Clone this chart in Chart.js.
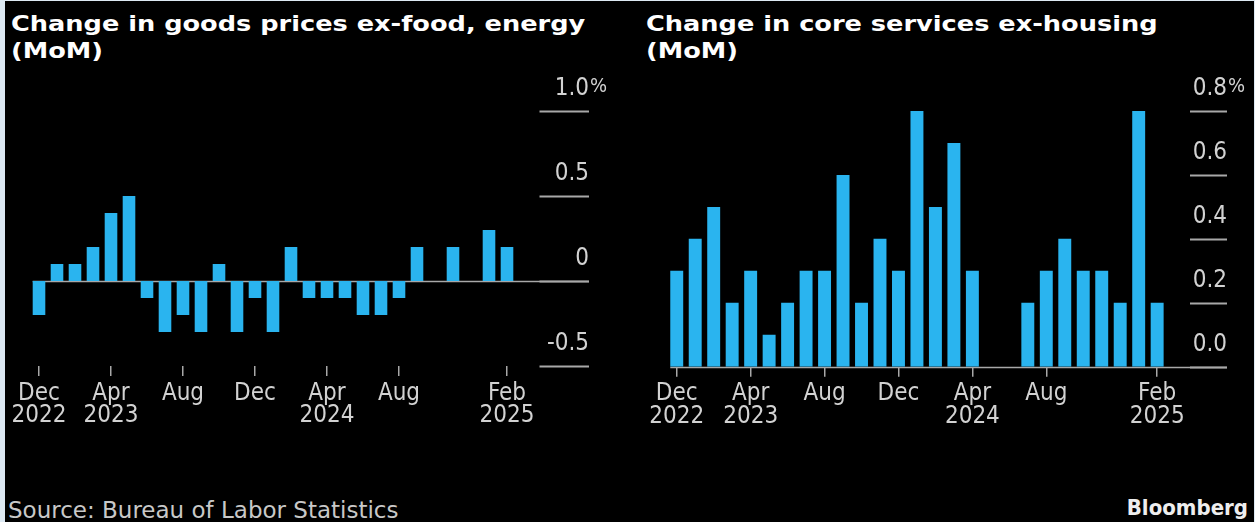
<!DOCTYPE html>
<html>
<head>
<meta charset="utf-8">
<script src="https://cdn.jsdelivr.net/npm/chart.js@4.4.1/dist/chart.umd.min.js"></script>
<style>
  html, body { margin: 0; padding: 0; width: 1255px; height: 522px; overflow: hidden; background: #dde9f3; }
  #frame { position: absolute; left: 5px; top: 1px; width: 1249px; height: 521px; background: #000; }
  .title {
    position: absolute; top: 11px; color: #fff;
    font: bold 21px 'DejaVu Sans', Verdana, sans-serif; line-height: 27px;
    transform: scaleX(1.22); transform-origin: 0 0; white-space: nowrap;
  }
  .box { position: absolute; top: 60px; height: 380px; }
  #source { position: absolute; left: 8px; top: 497px; color: #c8c8c8; font: 23px 'DejaVu Sans', sans-serif; line-height: 26px; }
  #brand { position: absolute; right: 7px; top: 495px; color: #eee; font: bold 22px 'DejaVu Sans Condensed', 'DejaVu Sans', sans-serif; font-stretch: condensed; line-height: 26px; }
</style>
</head>
<body>
<div id="frame"></div>
<div class="title" style="left:11px">Change in goods prices ex-food, energy<br>(MoM)</div>
<div class="title" style="left:646px">Change in core services ex-housing<br>(MoM)</div>
<div class="box" style="left:0;width:620px"><canvas id="goodsChart" width="620" height="380"></canvas></div>
<div class="box" style="left:630px;width:625px"><canvas id="servicesChart" width="625" height="380"></canvas></div>
<div id="source">Source: Bureau of Labor Statistics</div>
<div id="brand">Bloomberg</div>
<script>
// Monthly change, Dec 2022 - Feb 2025
const months = ['2022-12', '2023-01', '2023-02', '2023-03', '2023-04', '2023-05', '2023-06', '2023-07', '2023-08',
  '2023-09', '2023-10', '2023-11', '2023-12', '2024-01', '2024-02', '2024-03', '2024-04', '2024-05', '2024-06',
  '2024-07', '2024-08', '2024-09', '2024-10', '2024-11', '2024-12', '2025-01', '2025-02'];

const goodsChange = [-0.2, 0.1, 0.1, 0.2, 0.4, 0.5, -0.1, -0.3, -0.2, -0.3, 0.1, -0.3, -0.1, -0.3, 0.2,
  -0.1, -0.1, -0.1, -0.2, -0.2, -0.1, 0.2, 0.0, 0.2, 0.0, 0.3, 0.2];

const servicesChange = [0.3, 0.4, 0.5, 0.2, 0.3, 0.1, 0.2, 0.3, 0.3, 0.6, 0.2, 0.4, 0.3, 0.8, 0.5,
  0.7, 0.3, 0.0, 0.0, 0.2, 0.3, 0.4, 0.3, 0.3, 0.2, 0.8, 0.2];

const monthTicks = [['Dec', '2022'], '', '', '', ['Apr', '2023'], '', '', '', 'Aug', '', '', '', 'Dec', '', '', '',
  ['Apr', '2024'], '', '', '', 'Aug', '', '', '', '', '', ['Feb', '2025']];

const goodsTicks = [-0.5, 0, 0.5, 1.0];
const goodsTickText = ['-0.5', '0', '0.5', '1.0'];
const servicesTicks = [0, 0.2, 0.4, 0.6, 0.8];
const servicesTickText = ['0.0', '0.2', '0.4', '0.6', '0.8'];

const BAR = '#2ab4ef';
const LABEL = '#d2d2d2';
const LINE = '#a8a8a8';
const TICK_FONT = "'DejaVu Sans Condensed', 'DejaVu Sans', sans-serif";

// Bloomberg-style value axis: short stubs on the right, label sitting above each stub,
// plus a base line running from the first bar to the end of the stubs.
const stubAxis = {
  id: 'stubAxis',
  beforeDatasetsDraw(chart, args, opts) {
    const ctx = chart.ctx;
    const y = chart.scales.y;
    const area = chart.chartArea;
    const first = chart.getDatasetMeta(0).data[0];
    const x0 = area.right + opts.gap;
    const x1 = x0 + opts.stub;
    ctx.save();
    // base line
    const by = Math.round(y.getPixelForValue(opts.base)) + 0.5;
    ctx.strokeStyle = LINE;
    ctx.lineWidth = 1.5;
    ctx.beginPath();
    ctx.moveTo(first.x - first.width / 2, by);
    ctx.lineTo(x1, by);
    ctx.stroke();
    // stubs and labels
    ctx.lineWidth = 2;
    ctx.font = '24px ' + TICK_FONT;
    ctx.fillStyle = LABEL;
    ctx.textBaseline = 'middle';
    opts.values.forEach((v, i) => {
      const py = Math.round(y.getPixelForValue(v)) + 0.5;
      ctx.beginPath();
      ctx.moveTo(x0, py);
      ctx.lineTo(x1, py);
      ctx.stroke();
      ctx.textAlign = 'right';
      ctx.fillText(opts.text[i], x1, py - 23);
      if (i === opts.values.length - 1) {
        ctx.textAlign = 'left';
        ctx.font = '20px ' + TICK_FONT;
        ctx.fillText('%', x1 + 1, py - 25);
        ctx.font = '24px ' + TICK_FONT;
      }
    });
    ctx.restore();
  }
};

function makeChart(id, values, yMin, yMax, pad, stubOpts) {
  const ctx = document.getElementById(id).getContext('2d');
  return new Chart(ctx, {
    type: 'bar',
    data: {
      labels: months,
      datasets: [{
        data: values,
        backgroundColor: BAR,
        borderWidth: 0,
        categoryPercentage: 1.0,
        barPercentage: 0.7
      }]
    },
    options: {
      responsive: false,
      animation: false,
      layout: { padding: pad },
      scales: {
        x: {
          offset: true,
          border: { display: false },
          grid: {
            offset: false,
            drawOnChartArea: false,
            tickLength: 10,
            lineWidth: 1.5,
            color: c => monthTicks[c.index] ? LINE : 'rgba(0,0,0,0)'
          },
          ticks: {
            autoSkip: false,
            maxRotation: 0,
            padding: 6,
            color: LABEL,
            font: { family: TICK_FONT, size: 24, lineHeight: 0.95 },
            callback: (v, i) => monthTicks[i]
          },
          afterFit: s => { s.height = pad.xHeight; }
        },
        y: { display: false, min: yMin, max: yMax }
      },
      plugins: {
        legend: { display: false },
        tooltip: { enabled: false },
        stubAxis: stubOpts
      }
    },
    plugins: [stubAxis]
  });
}

makeChart('goodsChart', goodsChange, -0.5, 1.0,
  { left: 30, right: 104, top: 51, bottom: 0, xHeight: 74 },
  { values: goodsTicks, text: goodsTickText, base: 0, gap: 23.5, stub: 49.5 });

makeChart('servicesChart', servicesChange, 0, 0.8,
  { left: 37.5, right: 88.6, top: 51, bottom: 0, xHeight: 73.3 },
  { values: servicesTicks, text: servicesTickText, base: 0, gap: 23.6, stub: 37 });
</script>
</body>
</html>
